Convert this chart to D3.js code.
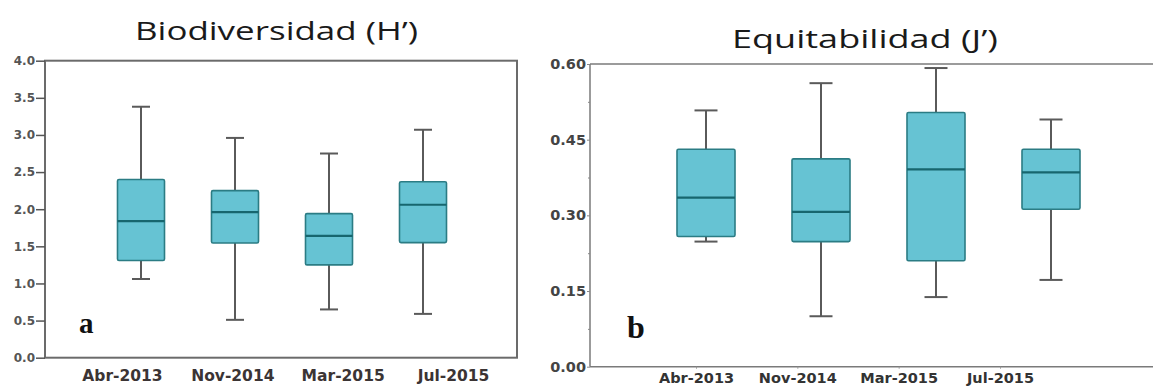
<!DOCTYPE html>
<html>
<head>
<meta charset="utf-8">
<script src="https://cdn.jsdelivr.net/npm/d3@7"></script>
<style>
  html, body { margin: 0; padding: 0; background: #fff; }
  svg { display: block; }
</style>
</head>
<body>
<svg id="chart" width="1153" height="387"></svg>
<script>
// ---- Data ----
const categories = ["Abr-2013", "Nov-2014", "Mar-2015", "Jul-2015"];

// Biodiversidad (H')
const hMin = [1.06, 0.51, 0.65, 0.59];
const hQ1  = [1.31, 1.545, 1.25, 1.55];
const hMed = [1.84, 1.96, 1.64, 2.06];
const hQ3  = [2.40, 2.25, 1.94, 2.37];
const hMax = [3.38, 2.96, 2.75, 3.07];
const hTicks = [0, 0.5, 1.0, 1.5, 2.0, 2.5, 3.0, 3.5, 4.0];

// Equitabilidad (J')
const jMin = [0.248, 0.100, 0.138, 0.172];
const jQ1  = [0.258, 0.248, 0.210, 0.312];
const jMed = [0.335, 0.307, 0.391, 0.385];
const jQ3  = [0.431, 0.412, 0.504, 0.431];
const jMax = [0.508, 0.562, 0.592, 0.490];
const jTicks = [0, 0.15, 0.30, 0.45, 0.60];
const jMinorTicks = [0.075, 0.225, 0.375, 0.525];

const titles = ["Biodiversidad (H\u2019)", "Equitabilidad (J\u2019)"];
const panelLetters = ["a", "b"];

// ---- Styles ----
const FONT = "'Open Sans', 'DejaVu Sans', sans-serif";
const AXFONT = "'DejaVu Sans', 'Verdana', sans-serif";
const BOX_FILL = "#66c3d3";
const BOX_STROKE = "#2b7c84";
const MED_STROKE = "#17666e";
const WHISK = "#5a5a5a";

const svg = d3.select("#chart");

function drawBoxes(g, y, xBox, boxW, capW, mins, q1, med, q3, maxs) {
  const rows = categories.map((c, i) => ({c, min: mins[i], q1: q1[i], med: med[i], q3: q3[i], max: maxs[i]}));
  const grp = g.selectAll("g.box").data(rows).join("g").attr("class", "box");
  grp.append("line")
    .attr("x1", d => xBox(d.c)).attr("x2", d => xBox(d.c))
    .attr("y1", d => y(d.max)).attr("y2", d => y(d.q3))
    .attr("stroke", WHISK).attr("stroke-width", 2);
  grp.append("line")
    .attr("x1", d => xBox(d.c)).attr("x2", d => xBox(d.c))
    .attr("y1", d => y(d.q1)).attr("y2", d => y(d.min))
    .attr("stroke", WHISK).attr("stroke-width", 2);
  grp.append("line")
    .attr("x1", d => xBox(d.c) - capW / 2).attr("x2", d => xBox(d.c) + capW / 2)
    .attr("y1", d => y(d.max)).attr("y2", d => y(d.max))
    .attr("stroke", WHISK).attr("stroke-width", 2);
  grp.append("line")
    .attr("x1", d => xBox(d.c) - capW / 2).attr("x2", d => xBox(d.c) + capW / 2)
    .attr("y1", d => y(d.min)).attr("y2", d => y(d.min))
    .attr("stroke", WHISK).attr("stroke-width", 2);
  grp.append("rect")
    .attr("x", d => xBox(d.c) - boxW / 2)
    .attr("y", d => y(d.q3))
    .attr("width", boxW)
    .attr("height", d => y(d.q1) - y(d.q3))
    .attr("rx", 1.5)
    .attr("fill", BOX_FILL).attr("stroke", BOX_STROKE).attr("stroke-width", 1.6);
  grp.append("line")
    .attr("x1", d => xBox(d.c) - boxW / 2).attr("x2", d => xBox(d.c) + boxW / 2)
    .attr("y1", d => y(d.med)).attr("y2", d => y(d.med))
    .attr("stroke", MED_STROKE).attr("stroke-width", 2.2);
}

// ================= Panel a =================
{
  const L = 45, R = 517, T = 60.7, B = 357.7;
  const y = d3.scaleLinear().domain([0, 4]).range([B, T]);
  const xBox = d3.scalePoint().domain(categories).range([141, 423]);
  const xLab = d3.scalePoint().domain(categories).range([122, 453]);
  const g = svg.append("g");

  g.append("rect").attr("x", L).attr("y", T).attr("width", R - L).attr("height", B - T)
    .attr("fill", "none").attr("stroke", "#6b6b6b").attr("stroke-width", 2);

  const ya = g.append("g").attr("transform", `translate(${L},0)`)
    .call(d3.axisLeft(y).tickValues(hTicks).tickFormat(d3.format(".1f")).tickSize(9).tickPadding(1));
  ya.select(".domain").remove();
  ya.selectAll(".tick line").attr("stroke", "#555").attr("stroke-width", 1.5);
  ya.selectAll(".tick text").attr("fill", "#555").style("font-family", AXFONT)
    .style("font-size", "12px").style("font-weight", "bold");

  const xa = g.append("g").attr("transform", `translate(0,${B})`)
    .call(d3.axisBottom(xLab).tickSize(0).tickPadding(12));
  xa.select(".domain").remove();
  xa.selectAll(".tick text").attr("fill", "#3b3434").style("font-family", AXFONT)
    .style("font-size", "15.5px").style("font-weight", "bold");

  drawBoxes(g, y, xBox, 47, 18, hMin, hQ1, hMed, hQ3, hMax);

  g.append("text").attr("x", 135).attr("y", 40)
    .attr("textLength", 283).attr("lengthAdjust", "spacingAndGlyphs")
    .style("font-family", FONT).style("font-size", "25px").attr("fill", "#1a1a1a")
    .text(titles[0]);

  g.append("text").attr("x", 79).attr("y", 333)
    .style("font-family", "'Liberation Serif', 'DejaVu Serif', serif").style("font-weight", "bold")
    .style("font-size", "29px").attr("fill", "#111").text(panelLetters[0]);
}

// ================= Panel b =================
{
  const L = 590, R = 1153, T = 64, B = 366.7;
  const y = d3.scaleLinear().domain([0, 0.6]).range([B, T]);
  const xBox = d3.scalePoint().domain(categories).range([706, 1051]);
  const xLab = d3.scalePoint().domain(categories).range([696, 1000]);
  const g = svg.append("g");

  g.append("line").attr("x1", L).attr("x2", R).attr("y1", T).attr("y2", T)
    .attr("stroke", "#7a7a7a").attr("stroke-width", 1.5);
  g.append("line").attr("x1", L).attr("x2", R).attr("y1", B).attr("y2", B)
    .attr("stroke", "#7a7a7a").attr("stroke-width", 1.5);
  g.append("line").attr("x1", L).attr("x2", L).attr("y1", T).attr("y2", B)
    .attr("stroke", "#7a7a7a").attr("stroke-width", 1.5);

  const ym = g.append("g").attr("transform", `translate(${L},0)`)
    .call(d3.axisLeft(y).tickValues(jMinorTicks).tickFormat("").tickSize(2));
  ym.select(".domain").remove();
  ym.selectAll(".tick line").attr("stroke", "#888");

  const ya = g.append("g").attr("transform", `translate(${L},0)`)
    .call(d3.axisLeft(y).tickValues(jTicks).tickFormat(d3.format(".2f")).tickSize(3).tickPadding(1));
  ya.select(".domain").remove();
  ya.selectAll(".tick line").attr("stroke", "#888");
  ya.selectAll(".tick text").attr("fill", "#444").style("font-family", AXFONT)
    .style("font-size", "14.5px").style("font-weight", "bold");

  const xa = g.append("g").attr("transform", `translate(0,${B})`)
    .call(d3.axisBottom(xLab).tickSize(2).tickPadding(4));
  xa.select(".domain").remove();
  xa.selectAll(".tick line").attr("stroke", "#999");
  xa.selectAll(".tick text").attr("fill", "#333").style("font-family", AXFONT)
    .style("font-size", "14.5px").style("font-weight", "bold");

  drawBoxes(g, y, xBox, 58, 23, jMin, jQ1, jMed, jQ3, jMax);

  g.append("text").attr("x", 732).attr("y", 48)
    .attr("textLength", 266).attr("lengthAdjust", "spacingAndGlyphs")
    .style("font-family", FONT).style("font-size", "26px").attr("fill", "#1a1a1a")
    .text(titles[1]);

  g.append("text").attr("x", 627).attr("y", 338)
    .style("font-family", "'Liberation Serif', 'DejaVu Serif', serif").style("font-weight", "bold")
    .style("font-size", "32px").attr("fill", "#111").text(panelLetters[1]);
}
</script>
</body>
</html>
